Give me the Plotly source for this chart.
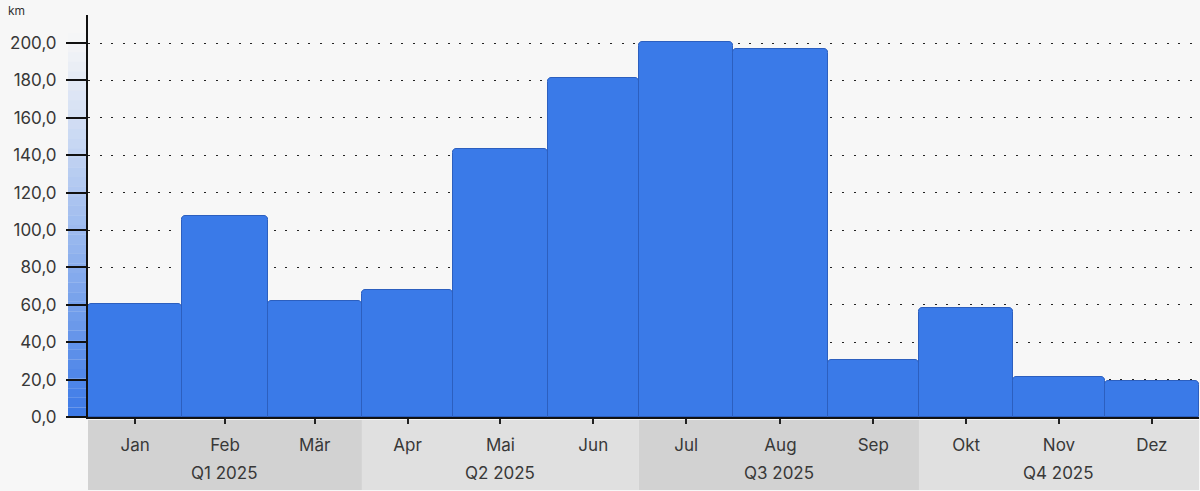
import plotly.graph_objects as go

# monthly distance, 2025
months = ['Jan', 'Feb', 'Mär', 'Apr', 'Mai', 'Jun', 'Jul', 'Aug', 'Sep', 'Okt', 'Nov', 'Dez']
days_in_month = [31, 28, 31, 30, 31, 30, 31, 31, 30, 31, 30, 31]
km = [60.5, 107.5, 62.0, 67.9, 143.3, 181.3, 200.5, 196.8, 30.5, 58.3, 21.4, 19.3]
quarters = ['Q1 2025', 'Q2 2025', 'Q3 2025', 'Q4 2025']
y_ticks = [0, 20, 40, 60, 80, 100, 120, 140, 160, 180, 200]

# day offsets of each month start
starts = []
total = 0
for d in days_in_month:
    starts.append(total)
    total += d
centers = [s + d / 2 for s, d in zip(starts, days_in_month)]

W, H = 1200, 491
M_L, M_R, M_T, M_B = 88, 1, 15, 74
plot_h = H - M_T - M_B

fig = go.Figure()
fig.add_trace(go.Bar(
    x=centers, y=km, width=days_in_month,
    marker=dict(color='#3a7ae8', line=dict(color='#2c5fbf', width=1), cornerradius=4),
    hovertemplate='%{y:.1f} km<extra></extra>'
))

shapes = []
# quarter bands under the axis
for q in range(4):
    x0 = starts[q * 3]
    x1 = starts[q * 3 + 2] + days_in_month[q * 3 + 2]
    shapes.append(dict(type='rect', xref='x', yref='paper', x0=x0, x1=x1,
                       y0=-3 / plot_h, y1=-73 / plot_h, line=dict(width=0),
                       fillcolor='#d2d2d2' if q % 2 == 0 else '#e0e0e0', layer='below'))

# fading strip left of the y axis
n = 40
top, bot = 33, H - M_B
for i in range(n):
    ya = top + (bot - top) * i / n
    yb = top + (bot - top) * (i + 1) / n
    op = ((i + 0.5) / n) ** 1.1
    shapes.append(dict(type='rect', xref='paper', yref='paper',
                       x0=-20 / (W - M_L - M_R), x1=0,
                       y0=(H - M_B - ya) / plot_h, y1=(H - M_B - yb) / plot_h,
                       line=dict(width=0), fillcolor='#3a78e6', opacity=op, layer='below'))

annotations = []
for q, label in enumerate(quarters):
    x0 = starts[q * 3]
    x1 = starts[q * 3 + 2] + days_in_month[q * 3 + 2]
    annotations.append(dict(x=(x0 + x1) / 2, xref='x', y=-56 / plot_h, yref='paper',
                            text=label, showarrow=False, yanchor='middle',
                            font=dict(size=17, color='#383838')))
annotations.append(dict(x=-82 / (W - M_L - M_R), xref='paper', y=(H - M_B - 10) / plot_h,
                        yref='paper', text='km', showarrow=False, xanchor='left',
                        yanchor='middle', font=dict(size=12, color='#333333')))

fig.update_layout(
    width=W, height=H,
    margin=dict(l=M_L, r=M_R, t=M_T, b=M_B),
    paper_bgcolor='#f7f7f7', plot_bgcolor='#f7f7f7',
    font=dict(family='Inter, Liberation Sans, Arial, sans-serif', size=17, color='#383838'),
    separators=',.',
    bargap=0, showlegend=False,
    shapes=shapes, annotations=annotations,
)
fig.update_xaxes(
    range=[0, total], tickvals=centers, ticktext=months,
    showgrid=False, zeroline=False,
    showline=True, linecolor='#111111', linewidth=2,
    ticks='outside', ticklen=5, tickwidth=2, tickcolor='#222222',
    ticklabelstandoff=7,
)
fig.update_yaxes(
    range=[0, 215], tickvals=y_ticks, tickformat='.1f',
    showgrid=True, gridcolor='#222222', gridwidth=1.3, griddash='2px,9.6px',
    zeroline=False,
    showline=True, linecolor='#111111', linewidth=2,
    ticks='outside', ticklen=20, tickwidth=2, tickcolor='#111111',
    ticklabelstandoff=6,
)

fig.write_html("out.html", config={'displayModeBar': False},
               post_script="document.body.style.margin='0';")
